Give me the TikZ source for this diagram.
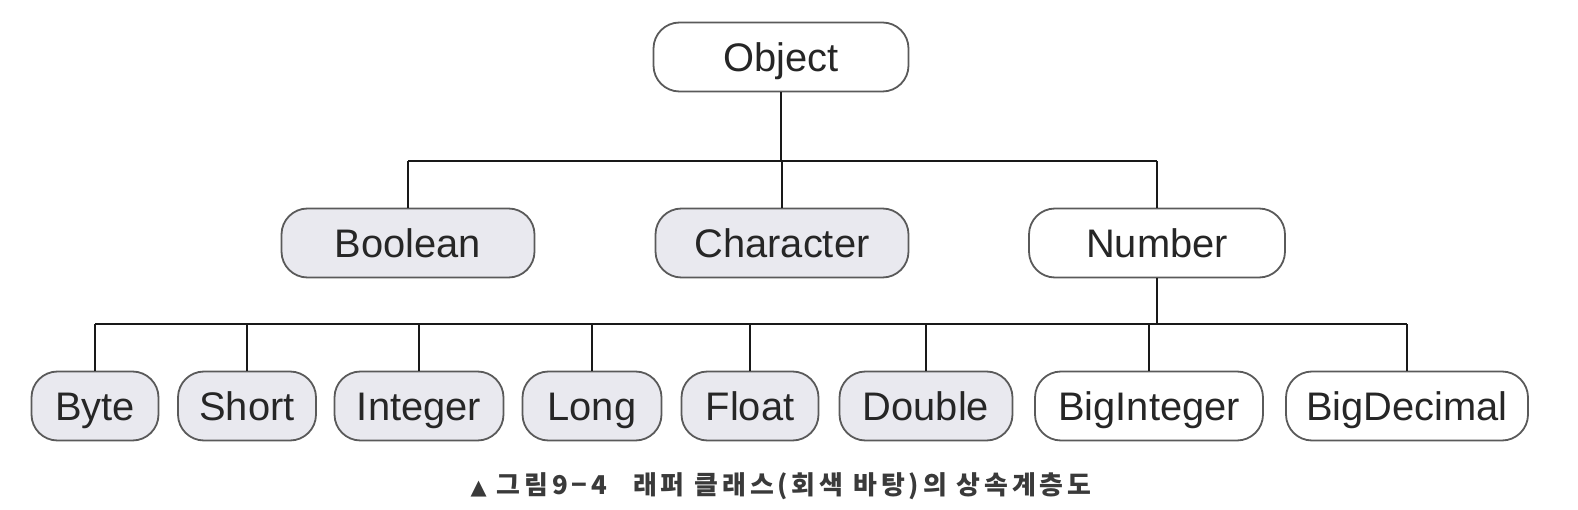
\documentclass[tikz,border=0pt]{standalone}
\usepackage{fontspec}
\setmainfont{Liberation Sans}
\newfontfamily\krfont{Noto Sans CJK KR}[LetterSpace=15]
\newfontfamily\symfont{DejaVu Sans}
\definecolor{boxline}{HTML}{5A5A5A}
\definecolor{boxfill}{HTML}{E9E9EF}
\definecolor{captext}{HTML}{3A3A3A}
\begin{document}
\begin{tikzpicture}[x=1bp,y=-1bp,
  cls/.style={draw=boxline,line width=1.8bp,rounded corners=26bp,minimum height=69bp,
    inner sep=0pt,text height=28.5bp,text depth=0bp,font=\fontsize{40}{44}\selectfont,text=black!85},
  wrap/.style={cls,fill=boxfill},
  plain/.style={cls,fill=white},
  link/.style={line width=2.8bp,black!90}]
\useasboundingbox (0,0) rectangle (1578,510);
% top
\node[plain,minimum width=255bp] (obj) at (781,57) {Object};
% middle row
\node[wrap,minimum width=253bp] (bool) at (408,243) {Boolean};
\node[wrap,minimum width=253bp] (char) at (782,243) {Character};
\node[plain,minimum width=256bp] (num) at (1157,243) {Number};
% bottom row
\node[wrap,minimum width=127bp] (byte) at (95,406) {Byte};
\node[wrap,minimum width=138bp] (short) at (247,406) {Short};
\node[wrap,minimum width=169bp] (int) at (419,406) {Integer};
\node[wrap,minimum width=139bp] (long) at (592,406) {Long};
\node[wrap,minimum width=137bp] (float) at (750,406) {Float};
\node[wrap,minimum width=173bp] (dbl) at (926,406) {Double};
\node[plain,minimum width=228bp] (bigi) at (1149,406) {BigInteger};
\node[plain,minimum width=242bp] (bigd) at (1407,406) {BigDecimal};
% bars
\coordinate (barA) at (781,161);
\coordinate (barB) at (1157,324);
% connectors level 1
\draw[link] (obj.south) -- (obj.south |- barA);
\draw[link] (bool.north |- barA) -- (num.north |- barA);
\foreach \n in {bool,char,num}{\draw[link] (\n.north) -- (\n.north |- barA);}
% connectors level 2
\draw[link] (num.south) -- (num.south |- barB);
\draw[link] (byte.north |- barB) -- (bigd.north |- barB);
\foreach \n in {byte,short,int,long,float,dbl,bigi,bigd}{\draw[link] (\n.north) -- (\n.north |- barB);}
% caption
\node[text=captext,font=\krfont\bfseries\fontsize{26}{30}\selectfont,inner sep=0pt] (cap) at (781,486)
  {{\symfont\fontsize{21}{24}\selectfont ▲}\hspace{10bp}그림9−4\hspace{26bp}래퍼 클래스(회색 바탕)의 상속계층도};
\end{tikzpicture}
\end{document}
